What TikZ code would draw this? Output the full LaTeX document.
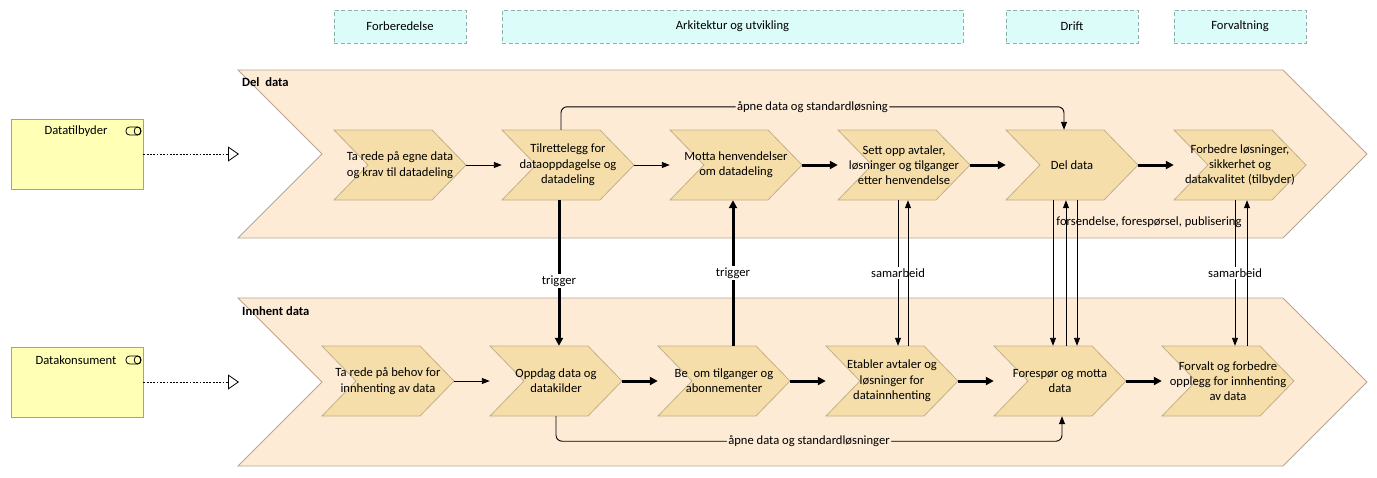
\documentclass[tikz,border=0pt]{standalone}
\usepackage{fontspec}
\setmainfont{Carlito}
\usetikzlibrary{arrows.meta}
\definecolor{bigfill}{HTML}{FDEBD6}
\definecolor{bigline}{HTML}{B5A591}
\definecolor{chevfill}{HTML}{F5DEAA}
\definecolor{chevline}{HTML}{C4AF88}
\definecolor{phasefill}{HTML}{DBFCF9}
\definecolor{phaseline}{HTML}{8FB0AC}
\definecolor{actfill}{HTML}{FFFFB5}
\definecolor{actline}{HTML}{ABA66E}
\newcommand\chevbox[4]{%
  \draw[chevshape] (#2,#3) ++(-66,-35) -- ++(98,0) -- ++(34,35) -- ++(-34,35) -- ++(-98,0) -- ++(34,-35) -- cycle;
  \node[chevtext] (#1) at (#2,#3) {#4};}
\tikzset{
  bigchev/.style={fill=bigfill, draw=bigline, line width=0.8pt},
  chevshape/.style={fill=chevfill, draw=chevline, line width=0.8pt},
  chevtext/.style={minimum width=132pt, minimum height=70pt, inner sep=0pt, align=center},
  phase/.style={draw=phaseline, dash pattern=on 4pt off 2.5pt, line width=0.8pt, fill=phasefill, minimum height=33pt, inner sep=0pt},
  actor/.style={draw=actline, fill=actfill, line width=0.8pt, minimum width=132pt, minimum height=70pt, inner sep=0pt},
  thinarrow/.style={line width=0.9pt, -{Triangle[length=8pt,width=6pt]}},
  thickarrow/.style={line width=3pt, -{Triangle[length=8pt,width=8pt]}},
  lbl/.style={inner sep=1.5pt},
  realizes/.style={line width=0.7pt, dash pattern=on 1.8pt off 1.5pt, -{Triangle[open,length=11pt,width=15pt,line width=0.8pt]}},
}
\begin{document}
\begin{tikzpicture}[x=1pt,y=-1pt, font=\fontsize{12.6}{15.3}\selectfont]
\useasboundingbox (0,0) rectangle (1377,477);

% phases
\node[phase, minimum width=132pt] (p1) at (400,26.5) {Forberedelse};
\node[phase, minimum width=461pt] (p2) at (732.5,26.5) {Arkitektur og utvikling};
\node[phase, minimum width=132pt] (p3) at (1072,26.5) {Drift};
\node[phase, minimum width=132pt] (p4) at (1240,26.5) {Forvaltning};

% big chevrons
\draw[bigchev] (238,70) -- (1283,70) -- (1367,154) -- (1283,238) -- (238,238) -- (322,154) -- cycle;
\node[anchor=west, inner sep=0pt, font=\fontsize{12.6}{15}\selectfont\bfseries] (dellbl) at (242,82) {Del~ data};
\coordinate (delin) at (239,154);
\draw[bigchev] (238,298) -- (1283,298) -- (1367,382) -- (1283,466) -- (238,466) -- (322,382) -- cycle;
\node[anchor=west, inner sep=0pt, font=\fontsize{12.6}{15}\selectfont\bfseries] (innlbl) at (242,311) {Innhent data};
\coordinate (innin) at (239,382);

% actors
\node[actor] (a1) at (77,154) {};
\node[inner sep=0pt] (a1t) at (76,131) {Datatilbyder};
\draw[line width=0.8pt, rounded corners=3.5pt] (126,127) rectangle (141,135);
\draw[line width=0.8pt] (137.5,131) ellipse (3.3pt and 4pt);
\node[actor] (a2) at (77,382) {};
\node[inner sep=0pt] (a2t) at (76,360) {Datakonsument};
\draw[line width=0.8pt, rounded corners=3.5pt] (126,356) rectangle (141,364);
\draw[line width=0.8pt] (137.5,360) ellipse (3.3pt and 4pt);
\draw[realizes] (a1.east) -- (delin);
\draw[realizes] (a2.east) -- (innin);

% top row
\chevbox{t1}{400}{165}{Ta rede på egne data\\og krav til datadeling}
\chevbox{t2}{568}{165}{Tilrettelegg for\\dataoppdagelse og\\datadeling}
\chevbox{t3}{736}{165}{Motta henvendelser\\om datadeling}
\chevbox{t4}{904}{165}{Sett opp avtaler,\\løsninger og tilganger\\etter henvendelse}
\chevbox{t5}{1072}{165}{Del data}
\chevbox{t6}{1240}{165}{Forbedre løsninger,\\sikkerhet og\\datakvalitet (tilbyder)}

% bottom row
\chevbox{b1}{388}{381}{Ta rede på behov for\\innhenting av data}
\chevbox{b2}{556}{381}{Oppdag data og\\datakilder}
\chevbox{b3}{724}{381}{Be~ om tilganger og\\abonnementer}
\chevbox{b4}{892}{381}{Etabler avtaler og\\løsninger for\\datainnhenting}
\chevbox{b5}{1060}{381}{Forespør og motta\\data}
\chevbox{b6}{1228}{381}{Forvalt og forbedre\\opplegg for innhenting\\av data}

% horizontal flows
\draw[thinarrow] (t1.east) -- (t2.west);
\draw[thinarrow] (t2.east) -- (t3.west);
\draw[thickarrow] (t3.east) -- (t4.west);
\draw[thickarrow] (t4.east) -- (t5.west);
\draw[thickarrow] (t5.east) -- (t6.west);
\draw[thinarrow] (b1.east) -- (b2.west);
\draw[thickarrow] (b2.east) -- (b3.west);
\draw[thickarrow] (b3.east) -- (b4.west);
\draw[thickarrow] (b4.east) -- (b5.west);
\draw[thickarrow] (b5.east) -- (b6.west);

% routed flows
\draw[thinarrow, rounded corners=6pt] ([xshift=-7pt]t2.north) -- ++(0,-23) -| node[pos=0.25, fill=bigfill, lbl] {åpne data og standardløsning} ([xshift=-8pt]t5.north);
\draw[thinarrow, rounded corners=6pt] (b2.south) -- ++(0,25) -| node[pos=0.25, fill=bigfill, lbl] {åpne data og standardløsninger} ([xshift=2pt]b5.south);

% triggers
\draw[thickarrow] ([xshift=-9pt]t2.south) -- node[pos=0.555, fill=white, lbl] {trigger} ([xshift=-9pt]t2.south |- b2.north);
\draw[thickarrow] ([xshift=9pt]b3.north) -- node[pos=0.5, fill=white, lbl] {trigger} ([xshift=9pt]b3.north |- t3.south);

% samarbeid 1
\draw[thinarrow] ([xshift=-6pt]t4.south) -- node[pos=0.5, fill=white, lbl] {samarbeid} ([xshift=-6pt]t4.south |- b4.north);
\draw[thinarrow] ([xshift=4pt]t4.south |- b4.north) -- ([xshift=4pt]t4.south);

% del data / foresp
\draw[thinarrow] ([xshift=-19pt]t5.south) -- node[pos=0.15, anchor=west, inner sep=0pt, xshift=3pt] {forsendelse, forespørsel, publisering} ([xshift=-19pt]t5.south |- b5.north);
\draw[thinarrow] ([xshift=-6pt]t5.south |- b5.north) -- ([xshift=-6pt]t5.south);
\draw[thinarrow] ([xshift=5pt]t5.south) -- ([xshift=5pt]t5.south |- b5.north);

% samarbeid 2
\draw[thinarrow] ([xshift=-5pt]t6.south) -- node[pos=0.5, fill=white, lbl] {samarbeid} ([xshift=-5pt]t6.south |- b6.north);
\draw[thinarrow] ([xshift=7pt]t6.south |- b6.north) -- ([xshift=7pt]t6.south);
\end{tikzpicture}
\end{document}
